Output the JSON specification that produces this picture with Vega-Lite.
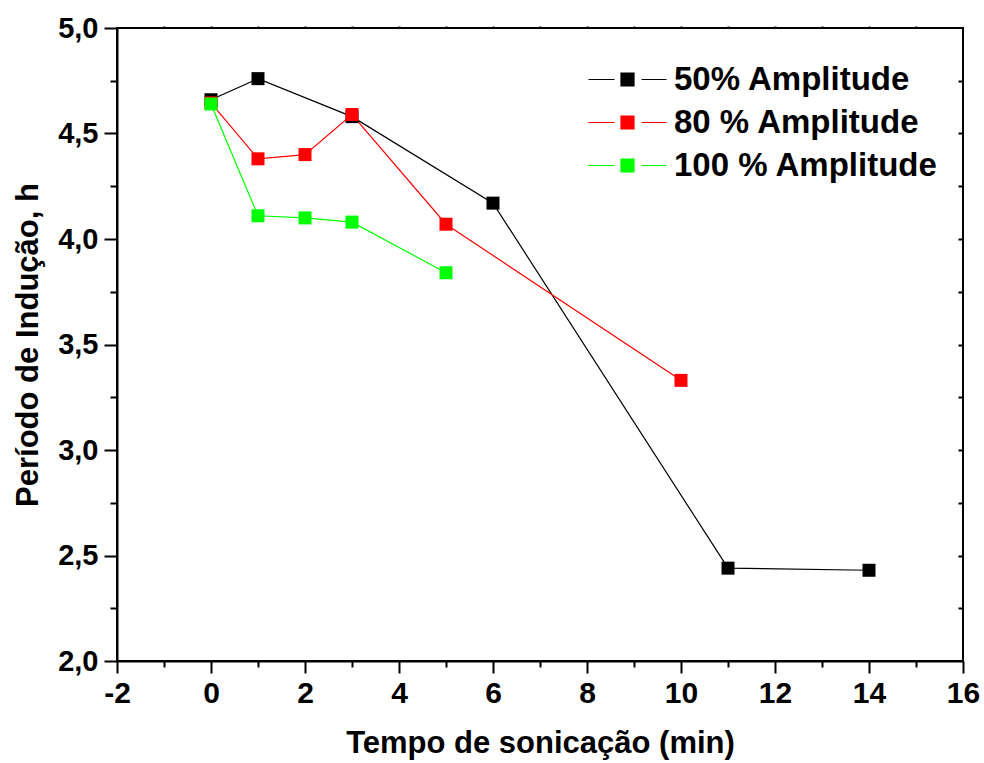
{
  "$schema": "https://vega.github.io/schema/vega-lite/v6.json",
  "width": 846,
  "height": 633,
  "autosize": {"type": "none"},
  "padding": {"left": 117, "top": 28, "right": 21, "bottom": 102},
  "background": "white",
  "config": {
    "view": {"stroke": "black", "strokeWidth": 2},
    "font": "Liberation Sans",
    "axis": {"domainColor": "black", "domainWidth": 2, "tickColor": "black", "tickWidth": 2, "grid": false, "labelFont": "Liberation Sans", "labelFontWeight": "bold", "labelColor": "black", "titleFont": "Liberation Sans", "titleFontWeight": "bold", "titleColor": "black"},
    "legend": {
      "title": null, "orient": "none", "legendX": 468, "legendY": 35,
      "symbolType": "M-3,0L-1,0M-0.5,-0.5L0.5,-0.5L0.5,0.5L-0.5,0.5ZM1.08,0L3,0",
      "symbolSize": 676, "symbolStrokeWidth": 1.2, "symbolOpacity": 1,
      "symbolOffset": 26, "labelOffset": 30,
      "labelFont": "Liberation Sans", "labelFontWeight": "bold", "labelFontSize": 33, "labelColor": "black", "labelLimit": 400,
      "rowPadding": 9
    }
  },
  "data": {"values": [
    {"serie": "50% Amplitude", "t": 0, "p": 4.66},
    {"serie": "50% Amplitude", "t": 1, "p": 4.76},
    {"serie": "50% Amplitude", "t": 3, "p": 4.58},
    {"serie": "50% Amplitude", "t": 6, "p": 4.17},
    {"serie": "50% Amplitude", "t": 11, "p": 2.44},
    {"serie": "50% Amplitude", "t": 14, "p": 2.43},
    {"serie": "80 % Amplitude", "t": 0, "p": 4.645},
    {"serie": "80 % Amplitude", "t": 1, "p": 4.38},
    {"serie": "80 % Amplitude", "t": 2, "p": 4.40},
    {"serie": "80 % Amplitude", "t": 3, "p": 4.59},
    {"serie": "80 % Amplitude", "t": 5, "p": 4.07},
    {"serie": "80 % Amplitude", "t": 10, "p": 3.33},
    {"serie": "100 % Amplitude", "t": 0, "p": 4.64},
    {"serie": "100 % Amplitude", "t": 1, "p": 4.11},
    {"serie": "100 % Amplitude", "t": 2, "p": 4.10},
    {"serie": "100 % Amplitude", "t": 3, "p": 4.08},
    {"serie": "100 % Amplitude", "t": 5, "p": 3.84}
  ]},
  "resolve": {"axis": {"x": "independent", "y": "independent"}},
  "layer": [
    {
      "mark": {"type": "line", "strokeWidth": 1.2},
      "encoding": {
        "x": {"field": "t", "type": "quantitative",
          "scale": {"domain": [-2, 16], "nice": false, "zero": false},
          "axis": {"orient": "bottom", "values": [-2, 0, 2, 4, 6, 8, 10, 12, 14, 16], "tickSize": 12, "labelFontSize": 30, "labelPadding": 5, "labelExpr": "'' + datum.value", "title": "Tempo de sonicação (min)", "titleFontSize": 31, "titlePadding": 20, "labelFlush": false}},
        "y": {"field": "p", "type": "quantitative",
          "scale": {"domain": [2, 5], "nice": false, "zero": false},
          "axis": {"orient": "left", "values": [2, 2.5, 3, 3.5, 4, 4.5, 5], "tickSize": 13, "labelFontSize": 29, "labelPadding": 6, "labelExpr": "replace(format(datum.value, '.1f'), '.', ',')", "title": "Período de Indução, h", "titleFontSize": 31, "titlePadding": 13, "labelFlush": false}},
        "color": {"field": "serie", "type": "nominal",
          "scale": {"domain": ["50% Amplitude", "80 % Amplitude", "100 % Amplitude"], "range": ["#000000", "#ff0000", "#00ff00"]},
          "legend": {"encode": {"symbols": {"update": {"stroke": {"scale": "color", "field": "value"}, "fill": {"scale": "color", "field": "value"}, "size": {"value": 676}, "strokeWidth": {"value": 1.2}, "opacity": {"value": 1}}}}}},
        "detail": {"field": "serie"}
      }
    },
    {
      "mark": {"type": "point", "shape": "square", "filled": true, "size": 169, "opacity": 1},
      "encoding": {
        "x": {"field": "t", "type": "quantitative",
          "axis": {"orient": "bottom", "values": [-1, 1, 3, 5, 7, 9, 11, 13, 15], "tickSize": 6, "labels": false, "domain": false, "title": null}},
        "y": {"field": "p", "type": "quantitative",
          "axis": {"orient": "left", "values": [2.25, 2.75, 3.25, 3.75, 4.25, 4.75], "tickSize": 7, "labels": false, "domain": false, "title": null}},
        "color": {"field": "serie", "type": "nominal",
          "legend": {"encode": {"symbols": {"update": {"stroke": {"scale": "color", "field": "value"}, "fill": {"scale": "color", "field": "value"}, "size": {"value": 676}, "strokeWidth": {"value": 1.2}, "opacity": {"value": 1}}}}}}
      }
    },
    {
      "mark": {"type": "point", "opacity": 0},
      "encoding": {
        "x": {"field": "t", "type": "quantitative",
          "axis": {"orient": "top", "values": [-1, 0, 1, 2, 3, 4, 5, 6, 7, 8, 9, 10, 11, 12, 13, 14, 15], "tickSize": 2, "labels": false, "domain": false, "title": null}},
        "y": {"field": "p", "type": "quantitative",
          "axis": {"orient": "right", "values": [2.25, 2.5, 2.75, 3, 3.25, 3.5, 3.75, 4, 4.25, 4.5, 4.75], "tickSize": -5, "labels": false, "domain": false, "title": null}}
      }
    }
  ]
}
